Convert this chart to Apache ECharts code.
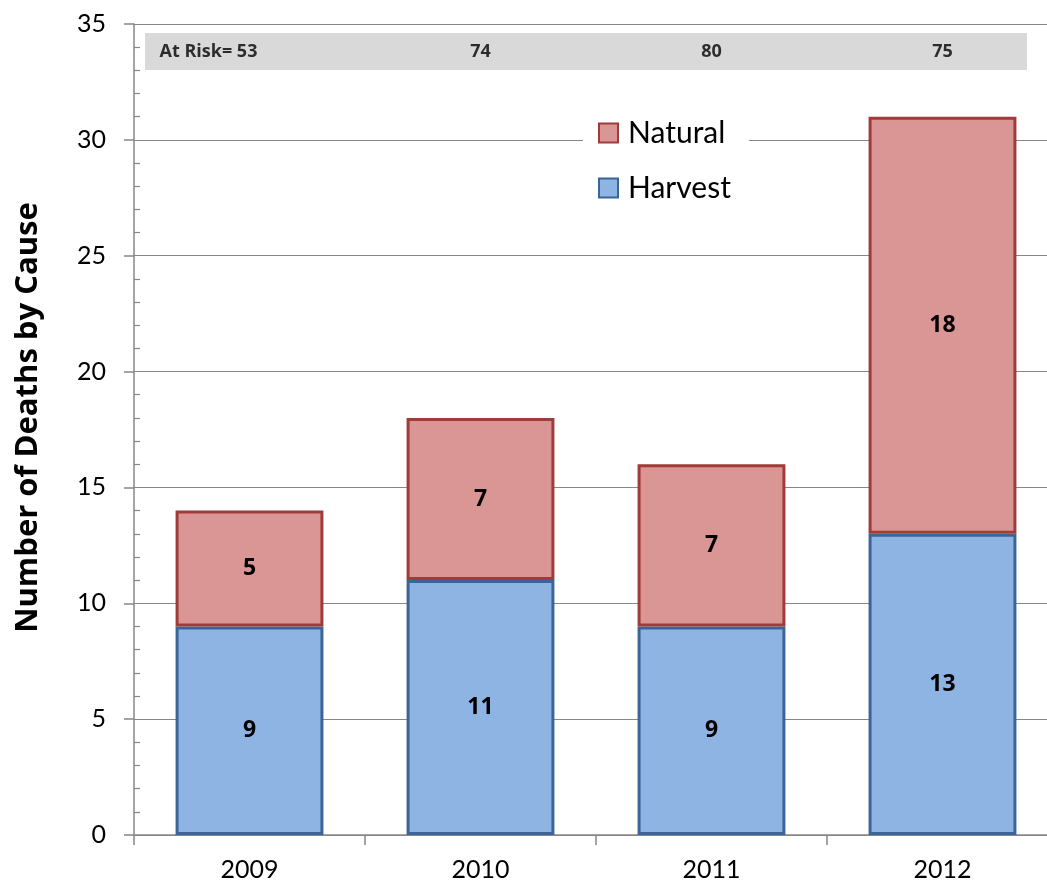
<!DOCTYPE html>
<html>
<head>
<meta charset="utf-8">
<script src="https://cdn.jsdelivr.net/npm/echarts@6/dist/echarts.min.js"></script>
<style>
  html, body { margin: 0; padding: 0; background: #fff; }
  #chart { width: 1047px; height: 884px; }
</style>
</head>
<body>
<div id="chart"></div>
<script>
// Deaths by cause per year, with the number of animals at risk each year
const years = ['2009', '2010', '2011', '2012'];
const harvest = [9, 11, 9, 13];
const natural = [5, 7, 7, 18];
const atRisk = [53, 74, 80, 75];

const FONT = 'Lato, "Open Sans", sans-serif';
const BOLD_FONT = '"Open Sans", Lato, sans-serif';
const AXIS_GRAY = '#878787';

const chart = echarts.init(document.getElementById('chart'));

const barLabel = {
  show: true,
  position: 'inside',
  color: '#000',
  fontFamily: BOLD_FONT,
  fontWeight: 'bold',
  fontSize: 23
};

chart.setOption({
  animation: false,
  textStyle: { fontFamily: FONT },
  // the plot runs slightly past the right edge of the canvas
  grid: { left: 134, right: -11, top: 24, bottom: 49, containLabel: false, outerBoundsMode: 'none' },
  legend: {
    data: ['Natural', 'Harvest'],
    orient: 'vertical',
    left: 583,
    top: 112,
    padding: [6, 18, 6, 15],
    itemGap: 25,
    itemWidth: 19,
    itemHeight: 19,
    icon: 'rect',
    backgroundColor: '#fff',
    textStyle: { fontFamily: FONT, fontSize: 30, lineHeight: 30, color: '#000', padding: [0, 0, 0, 5] }
  },
  graphic: [{
    type: 'rect',
    left: 145,
    top: 33,
    z: 0,
    shape: { width: 882, height: 37 },
    style: { fill: '#d9d9d9' }
  }],
  xAxis: {
    type: 'category',
    data: years,
    axisLine: { lineStyle: { color: AXIS_GRAY, width: 1.5 } },
    axisTick: { show: true, length: 10, lineStyle: { color: AXIS_GRAY, width: 1.5 } },
    axisLabel: { color: '#000', fontFamily: FONT, fontSize: 25, margin: 22 }
  },
  yAxis: [{
    type: 'value',
    min: 0,
    max: 35,
    interval: 5,
    name: 'Number of Deaths by Cause',
    nameLocation: 'middle',
    nameRotate: 90,
    nameGap: 90,
    nameTextStyle: {
      color: '#000', fontFamily: BOLD_FONT, fontWeight: 'bold', fontSize: 31,
      padding: [0, 0, 0, 24]
    },
    axisLine: { show: true, lineStyle: { color: AXIS_GRAY, width: 1.5 } },
    axisTick: { show: true, length: 10, lineStyle: { color: AXIS_GRAY, width: 1.5 } },
    axisLabel: { color: '#000', fontFamily: FONT, fontSize: 25, margin: 28 },
    splitLine: { show: true, lineStyle: { color: AXIS_GRAY, width: 1.2 } }
  }, {
    // companion axis drawing the inward minor ticks
    type: 'value',
    position: 'left',
    min: 0,
    max: 35,
    interval: 5,
    axisLine: { show: false },
    axisTick: { show: false, inside: true },
    minorTick: { show: true, splitNumber: 5, length: 6, lineStyle: { color: AXIS_GRAY, width: 1.2 } },
    axisLabel: { show: false },
    splitLine: { show: false }
  }],
  series: [{
    name: 'Harvest',
    type: 'bar',
    stack: 'deaths',
    barCategoryGap: '36%',
    data: harvest,
    itemStyle: { color: '#8eb4e3', borderColor: '#3b6498', borderWidth: 3 },
    label: barLabel,
    z: 3
  }, {
    name: 'Natural',
    type: 'bar',
    stack: 'deaths',
    barCategoryGap: '36%',
    data: natural,
    itemStyle: { color: '#d99694', borderColor: '#9f3b39', borderWidth: 3 },
    label: barLabel,
    z: 4
  }, {
    name: 'At Risk',
    type: 'scatter',
    symbolSize: 0,
    silent: true,
    z: 5,
    data: atRisk.map((v, i) => i === 0
      ? { value: [i, 33.8], label: { align: 'left', offset: [-90, 0] } }
      : { value: [i, 33.8] }),
    label: {
      show: true,
      position: 'inside',
      color: '#000',
      fontFamily: BOLD_FONT,
      fontWeight: 'bold',
      fontSize: 18,
      formatter: p => (p.dataIndex === 0 ? 'At Risk= ' : '') + atRisk[p.dataIndex]
    }
  }]
});
</script>
</body>
</html>
